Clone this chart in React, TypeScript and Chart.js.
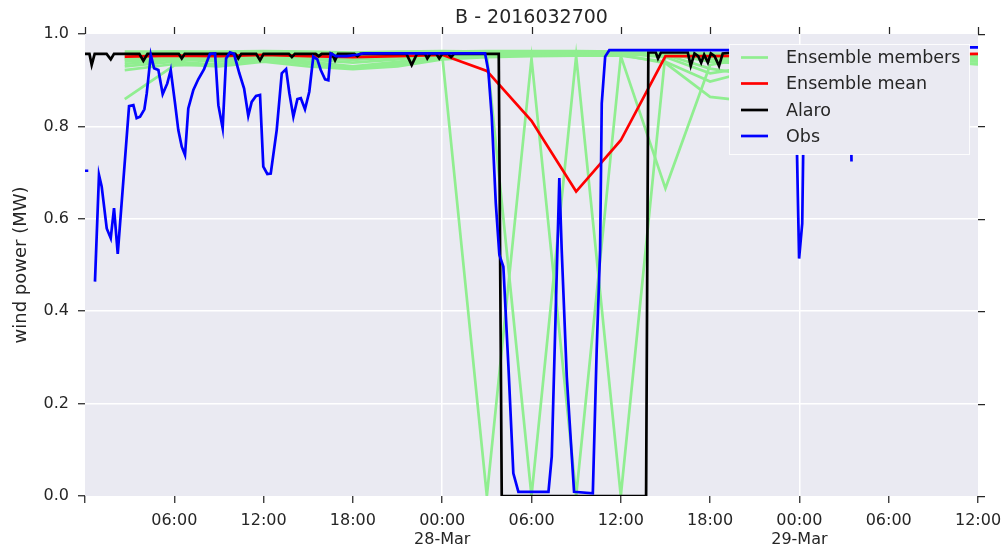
import React, { useEffect, useRef } from 'react';
import { Chart, registerables } from 'chart.js';

Chart.register(...registerables);

const TITLE = 'B - 2016032700';
const Y_LABEL = 'wind power (MW)';
const X_TICK_HOURS = [0, 6, 12, 18, 24, 30, 36, 42, 48, 54, 60];
const X_TICK_LABELS: (string | string[])[] = ['', '06:00', '12:00', '18:00', ['00:00', '28-Mar'], '06:00', '12:00', '18:00', ['00:00', '29-Mar'], '06:00', '12:00'];
const X_MAJOR_HOURS = [24, 48];
const Y_TICKS = [0, 0.2, 0.4, 0.6, 0.8, 1.0];
const LEGEND_LABELS = ['Ensemble members', 'Ensemble mean', 'Alaro', 'Obs'];
const COLORS = { members: '#90EE90', mean: '#FF0000', alaro: '#000000', obs: '#0000FF' };

// Ensemble (3-hourly)
const ENS_HOURS = [2.67, 6, 9, 12, 15, 18, 21, 24, 27, 30, 33, 36, 39, 42, 45, 48, 51, 54, 57, 60];
const MEMBER_1 = [0.945, 0.955, 0.955, 0.958, 0.955, 0.95, 0.955, 0.955, 0, 0.947, 0, 0.952, 0.666, 0.933, 0.95, 0.955, 0.955, 0.95, 0.95, 0.945];
const MEMBER_2 = [0.94, 0.948, 0.945, 0.952, 0.945, 0.938, 0.945, 0.958, 0.955, 0, 0.952, 0, 0.958, 0.955, 0.958, 0.958, 0.955, 0.952, 0.948, 0.94];
const MEMBER_3 = [0.859, 0.932, 0.935, 0.945, 0.936, 0.928, 0.936, 0.95, 0.955, 0.955, 0.956, 0.955, 0.937, 0.864, 0.853, 0.9, 0.93, 0.94, 0.94, 0.935];
const MEMBER_4 = [0.922, 0.935, 0.93, 0.94, 0.93, 0.924, 0.93, 0.945, 0.95, 0.952, 0.953, 0.953, 0.94, 0.897, 0.922, 0.94, 0.945, 0.945, 0.94, 0.935];
const MEMBER_5 = [0.95, 0.958, 0.958, 0.96, 0.955, 0.952, 0.958, 0.96, 0.96, 0.96, 0.96, 0.958, 0.95, 0.915, 0.93, 0.95, 0.952, 0.955, 0.95, 0.948];
const MEMBER_6 = [0.962, 0.962, 0.962, 0.963, 0.962, 0.96, 0.962, 0.963, 0.962, 0.962, 0.962, 0.962, 0.96, 0.955, 0.95, 0.955, 0.958, 0.958, 0.955, 0.952];
const MEMBER_7 = [0.935, 0.945, 0.94, 0.948, 0.94, 0.93, 0.94, 0.952, 0.957, 0.957, 0.958, 0.957, 0.955, 0.945, 0.94, 0.945, 0.95, 0.95, 0.945, 0.943];
const MEMBER_8 = [0.955, 0.96, 0.96, 0.958, 0.958, 0.955, 0.96, 0.96, 0.958, 0.958, 0.96, 0.96, 0.958, 0.94, 0.935, 0.95, 0.955, 0.955, 0.952, 0.95];
const MEMBER_9 = [0.93, 0.94, 0.933, 0.945, 0.935, 0.927, 0.932, 0.95, 0.955, 0.956, 0.957, 0.957, 0.955, 0.925, 0.91, 0.94, 0.95, 0.95, 0.948, 0.945];
const MEMBER_10 = [0.958, 0.962, 0.96, 0.962, 0.96, 0.958, 0.96, 0.962, 0.963, 0.963, 0.963, 0.962, 0.962, 0.958, 0.955, 0.958, 0.96, 0.96, 0.958, 0.955];
const MEMBER_11 = [0.945, 0.952, 0.95, 0.955, 0.948, 0.944, 0.95, 0.957, 0.958, 0.958, 0.958, 0.958, 0.957, 0.95, 0.945, 0.95, 0.953, 0.953, 0.95, 0.947];
const MEMBERS = [MEMBER_1, MEMBER_2, MEMBER_3, MEMBER_4, MEMBER_5, MEMBER_6, MEMBER_7, MEMBER_8, MEMBER_9, MEMBER_10, MEMBER_11];
const ENS_MEAN = [0.951, 0.953, 0.952, 0.955, 0.952, 0.95, 0.952, 0.955, 0.92, 0.812, 0.659, 0.77, 0.952, 0.952, 0.953, 0.955, 0.955, 0.955, 0.956, 0.957];

// Alaro
const ALARO_HOURS = [0, 0.3, 0.45, 0.65, 1.45, 1.73, 1.95, 3.65, 3.92, 4.2, 6.3, 6.5, 6.7, 10.1, 10.3, 10.5, 11.5, 11.76, 12.0, 13.7, 13.9, 14.1, 15.5, 15.7, 15.9, 16.6, 16.8, 17.0, 18.1, 18.3, 18.5, 21.6, 21.95, 22.3, 22.85, 23.0, 23.2, 23.6, 23.8, 24.0, 24.4, 24.6, 24.8, 27.8, 28.0, 37.7, 37.85, 38.35, 38.5, 38.7, 40.5, 40.7, 40.95, 41.2, 41.4, 41.6, 41.85, 42.05, 42.3, 42.6, 42.85, 43.5, 54];
const ALARO_VALUES = [0.957, 0.957, 0.933, 0.957, 0.957, 0.945, 0.957, 0.957, 0.942, 0.957, 0.957, 0.947, 0.957, 0.957, 0.947, 0.957, 0.957, 0.943, 0.957, 0.957, 0.95, 0.957, 0.957, 0.952, 0.957, 0.957, 0.943, 0.957, 0.957, 0.952, 0.957, 0.957, 0.933, 0.957, 0.957, 0.947, 0.957, 0.957, 0.947, 0.957, 0.957, 0.95, 0.957, 0.957, 0, 0, 0.96, 0.96, 0.947, 0.96, 0.96, 0.931, 0.958, 0.952, 0.938, 0.955, 0.938, 0.958, 0.952, 0.931, 0.958, 0.96, 0.96];

// Observations
const OBS_HOURS = [0, 0.22, 0.4, 0.67, 0.94, 1.12, 1.46, 1.73, 1.95, 2.2, 2.96, 3.25, 3.47, 3.7, 3.99, 4.15, 4.42, 4.64, 4.93, 5.22, 5.53, 5.76, 6.05, 6.27, 6.5, 6.72, 6.94, 7.28, 7.61, 8.0, 8.4, 8.74, 8.96, 9.25, 9.48, 9.74, 10.01, 10.37, 10.69, 10.97, 11.2, 11.49, 11.76, 11.98, 12.25, 12.48, 12.88, 13.22, 13.51, 13.73, 14.0, 14.27, 14.5, 14.78, 15.07, 15.34, 15.61, 15.84, 16.13, 16.35, 16.51, 16.87, 17.59, 18.26, 18.7, 26.88, 27.1, 27.33, 27.6, 27.84, 28.11, 28.45, 28.78, 29.12, 31.14, 31.36, 31.87, 32.03, 32.37, 32.86, 34.12, 34.38, 34.61, 34.72, 34.95, 35.23, 47.7, 47.98, 48.19, 48.35, 51.4, 51.5, 51.55, 59.4, 60];
const OBS_VALUES: (number | null)[] = [0.704, 0.704, null, 0.464, 0.695, 0.67, 0.579, 0.558, 0.623, 0.524, 0.844, 0.846, 0.818, 0.821, 0.837, 0.872, 0.955, 0.926, 0.922, 0.87, 0.893, 0.922, 0.85, 0.792, 0.756, 0.738, 0.839, 0.879, 0.902, 0.924, 0.957, 0.958, 0.846, 0.796, 0.947, 0.96, 0.957, 0.915, 0.882, 0.823, 0.853, 0.866, 0.868, 0.713, 0.697, 0.698, 0.792, 0.915, 0.924, 0.872, 0.821, 0.859, 0.861, 0.837, 0.875, 0.951, 0.945, 0.922, 0.902, 0.9, 0.958, 0.952, 0.952, 0.955, 0.958, 0.958, 0.92, 0.82, 0.634, 0.522, 0.496, 0.28, 0.049, 0.009, 0.009, 0.085, 0.688, 0.532, 0.258, 0.009, 0.006, 0.316, 0.532, 0.85, 0.951, 0.965, 0.965, 0.514, 0.59, 0.965, 0.965, 0.724, null, 0.971, 0.971];

const FONT = 'DejaVu Sans';
const TEXT_COLOR = '#262626';
const BG = '#EAEAF2';

const pts = (xs: number[], ys: (number | null)[]) => xs.map((x, i) => ({ x, y: ys[i] }));

export default function App() {
  const ref = useRef<HTMLCanvasElement | null>(null);
  useEffect(() => {
    const canvas = ref.current;
    if (!canvas) return;
    const lineDs = (label: string, data: any[], color: string) => ({
      label,
      data,
      borderColor: color,
      backgroundColor: color,
      borderWidth: 2.7,
      pointRadius: 0,
      tension: 0,
      fill: false,
      spanGaps: false,
      clip: 0,
    });
    const datasets: any[] = [
      lineDs('Obs', pts(OBS_HOURS, OBS_VALUES), COLORS.obs),
      lineDs('Alaro', pts(ALARO_HOURS, ALARO_VALUES), COLORS.alaro),
      lineDs('Ensemble mean', pts(ENS_HOURS, ENS_MEAN), COLORS.mean),
      ...MEMBERS.map((m, i) => lineDs('member ' + (i + 1), pts(ENS_HOURS, m), COLORS.members)),
    ];

    const decor = {
      id: 'decor',
      beforeDraw(chart: any) {
        const { ctx, chartArea: a } = chart;
        ctx.save();
        ctx.fillStyle = BG;
        ctx.fillRect(a.left, a.top, a.right - a.left, a.bottom - a.top);
        ctx.restore();
      },
      afterDraw(chart: any) {
        const { ctx, chartArea: a } = chart;
        const xs = chart.scales.x;
        const ys = chart.scales.y;
        ctx.save();
        // top and right tick marks
        ctx.strokeStyle = TEXT_COLOR;
        ctx.lineWidth = 1.25;
        ctx.beginPath();
        xs.ticks.forEach((t: any) => {
          const px = Math.round(xs.getPixelForValue(t.value)) + 0.5;
          ctx.moveTo(px, a.top);
          ctx.lineTo(px, a.top - 7);
        });
        ys.ticks.forEach((t: any) => {
          const py = Math.round(ys.getPixelForValue(t.value)) + 0.5;
          ctx.moveTo(a.right, py);
          ctx.lineTo(a.right + 7, py);
        });
        ctx.stroke();
        // title
        ctx.fillStyle = TEXT_COLOR;
        ctx.font = `19px "${FONT}"`;
        ctx.textAlign = 'center';
        ctx.textBaseline = 'middle';
        ctx.fillText(TITLE, (a.left + a.right) / 2, 18);
        // y label
        ctx.save();
        ctx.translate(21, (a.top + a.bottom) / 2);
        ctx.rotate(-Math.PI / 2);
        ctx.font = `18px "${FONT}"`;
        ctx.fillText(Y_LABEL, 0, 0);
        ctx.restore();
        // legend
        const lx = 729.5, ly = 44.5, lw = 240, lh = 110;
        ctx.fillStyle = BG;
        ctx.fillRect(lx, ly, lw, lh);
        ctx.strokeStyle = 'rgba(255,255,255,0.85)';
        ctx.lineWidth = 1;
        ctx.strokeRect(lx, ly, lw, lh);
        const cols = [COLORS.members, COLORS.mean, COLORS.alaro, COLORS.obs];
        const rowY = [57.5, 83.5, 110, 136];
        ctx.font = `17.5px "${FONT}"`;
        ctx.textAlign = 'left';
        LEGEND_LABELS.forEach((lab, i) => {
          ctx.strokeStyle = cols[i];
          ctx.lineWidth = 2.7;
          ctx.beginPath();
          ctx.moveTo(741, rowY[i]);
          ctx.lineTo(768, rowY[i]);
          ctx.stroke();
          ctx.fillStyle = TEXT_COLOR;
          ctx.fillText(lab, 786, rowY[i] + 1);
        });
        ctx.restore();
      },
    };

    const chart = new Chart(canvas, {
      type: 'line',
      data: { datasets },
      options: {
        animation: false,
        responsive: false,
        maintainAspectRatio: false,
        events: [],
        layout: { padding: { top: 34, right: 26, left: 0, bottom: 0 } },
        plugins: { legend: { display: false }, title: { display: false }, tooltip: { enabled: false } },
        scales: {
          x: {
            type: 'linear',
            min: 0,
            max: 60,
            afterBuildTicks: (s: any) => { s.ticks = X_TICK_HOURS.map((v) => ({ value: v })); },
            afterFit: (s: any) => { s.height = 55; s.paddingLeft = 0; s.paddingRight = 0; s.paddingTop = 0; s.paddingBottom = 0; },
            border: { display: false },
            grid: {
              color: (c: any) => (c.tick && X_MAJOR_HOURS.includes(c.tick.value) ? '#FFFFFF' : 'rgba(0,0,0,0)'),
              lineWidth: 1.5,
              tickColor: TEXT_COLOR,
              tickWidth: 1.25,
              tickLength: 7,
              drawTicks: true,
            },
            ticks: {
              autoSkip: false,
              maxRotation: 0,
              minRotation: 0,
              padding: 8,
              color: TEXT_COLOR,
              font: { family: FONT, size: 16, lineHeight: 1.2 },
              callback: (_v: any, i: number) => X_TICK_LABELS[i],
            },
          },
          y: {
            type: 'linear',
            min: 0,
            max: 1,
            afterBuildTicks: (s: any) => { s.ticks = Y_TICKS.map((v) => ({ value: v })); },
            afterFit: (s: any) => { s.width = 85; s.paddingLeft = 0; s.paddingRight = 0; s.paddingTop = 0; s.paddingBottom = 0; },
            border: { display: false },
            grid: {
              color: (c: any) => (c.tick && c.tick.value > 0.01 && c.tick.value < 0.99 ? '#FFFFFF' : 'rgba(0,0,0,0)'),
              lineWidth: 1.5,
              tickColor: TEXT_COLOR,
              tickWidth: 1.25,
              tickLength: 7,
              drawTicks: true,
            },
            ticks: {
              padding: 9,
              color: TEXT_COLOR,
              font: { family: FONT, size: 16 },
              callback: (v: any) => Number(v).toFixed(1),
            },
          },
        },
      } as any,
      plugins: [decor],
    });
    return () => chart.destroy();
  }, []);

  return (
    <div style={{ position: 'absolute', left: 0, top: 0, width: 1004, height: 551 }}>
      <canvas ref={ref} width={1004} height={551} style={{ width: 1004, height: 551, display: 'block' }} />
    </div>
  );
}
